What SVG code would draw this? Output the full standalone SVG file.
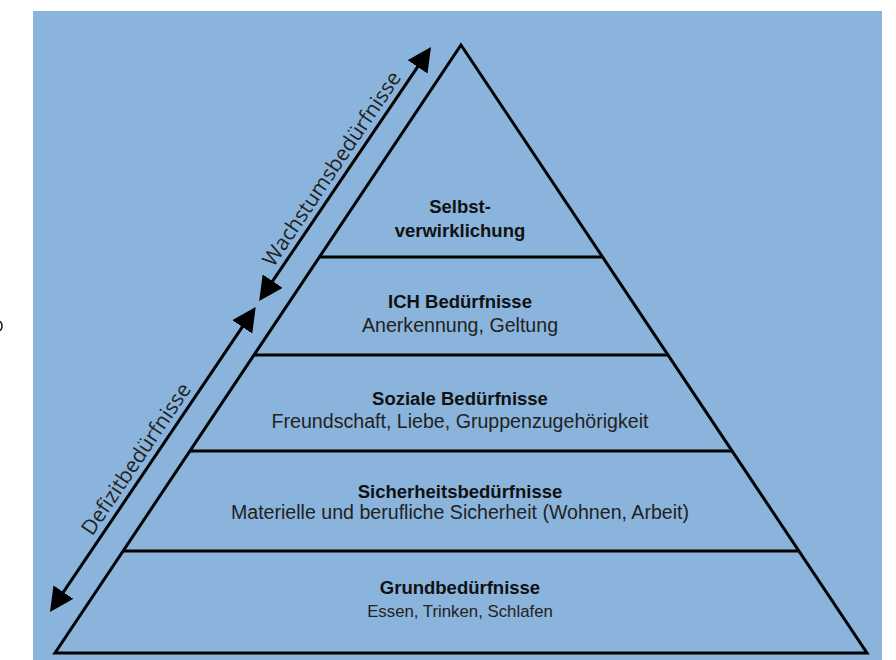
<svg xmlns="http://www.w3.org/2000/svg" width="896" height="660" viewBox="0 0 896 660">
  <style>
    .bg { fill: #8AB4DC; }
    .edge { fill: none; stroke: #000; stroke-width: 3; stroke-linejoin: miter; stroke-miterlimit: 10; }
    .sep { stroke: #000; stroke-width: 3; }
    .arrow { stroke: #000; stroke-width: 3; fill: none; }
    .title { font-family: "Liberation Sans", Arial, sans-serif; font-weight: bold; font-size: 18.5px; fill: #111; text-anchor: middle; }
    .sub { font-family: "Liberation Sans", Arial, sans-serif; font-size: 19.6px; fill: #222; text-anchor: middle; }
    .side { font-family: "Open Sans", "Noto Sans", sans-serif; font-weight: 400; font-size: 21px; fill: #222; text-anchor: middle; }
  </style>
  <defs>
    <marker id="head" viewBox="0 0 24 24" refX="14" refY="12" markerUnits="userSpaceOnUse" markerWidth="24" markerHeight="24" orient="auto-start-reverse">
      <path d="M0,0 L24,12 L0,24 z" fill="#000"/>
    </marker>
  </defs>

  <rect class="bg" x="33" y="11" width="849" height="649"/>
  <ellipse cx="-1" cy="326" rx="3" ry="4.5" fill="none" stroke="#222" stroke-width="1.6"/>

  <g id="pyramid">
    <polygon class="edge" points="461,45 867,653 55,653"/>
    <line class="sep" x1="319.4" y1="257" x2="602.6" y2="257"/>
    <line class="sep" x1="254" y1="355" x2="668" y2="355"/>
    <line class="sep" x1="189.9" y1="451" x2="732.1" y2="451"/>
    <line class="sep" x1="123.1" y1="551" x2="798.9" y2="551"/>
  </g>

  <g id="selbstverwirklichung">
    <text class="title" x="460" y="213">Selbst-</text>
    <text class="title" x="460" y="237">verwirklichung</text>
  </g>
  <g id="ich">
    <text class="title" x="460" y="308">ICH Bedürfnisse</text>
    <text class="sub" x="460" y="332">Anerkennung, Geltung</text>
  </g>
  <g id="soziale">
    <text class="title" x="460" y="405">Soziale Bedürfnisse</text>
    <text class="sub" x="460" y="428">Freundschaft, Liebe, Gruppenzugehörigkeit</text>
  </g>
  <g id="sicherheit">
    <text class="title" x="460" y="498">Sicherheitsbedürfnisse</text>
    <text class="sub" x="460" y="519">Materielle und berufliche Sicherheit (Wohnen, Arbeit)</text>
  </g>
  <g id="grund">
    <text class="title" x="460" y="594">Grundbedürfnisse</text>
    <text class="sub" x="460" y="617" style="font-size:16.8px">Essen, Trinken, Schlafen</text>
  </g>

  <g id="connectors">
    <line class="arrow" x1="55.59" y1="603.71" x2="250.11" y2="315.29" marker-start="url(#head)" marker-end="url(#head)"/>
    <line class="arrow" x1="264.79" y1="292.71" x2="425.41" y2="55.29" marker-start="url(#head)" marker-end="url(#head)"/>
  </g>

  <g id="labels">
    <text class="side" transform="translate(142,463) rotate(-56)">Defizitbedürfnisse</text>
    <text class="side" transform="translate(337.7,172.8) rotate(-56)">Wachstumsbedürfnisse</text>
  </g>
</svg>
